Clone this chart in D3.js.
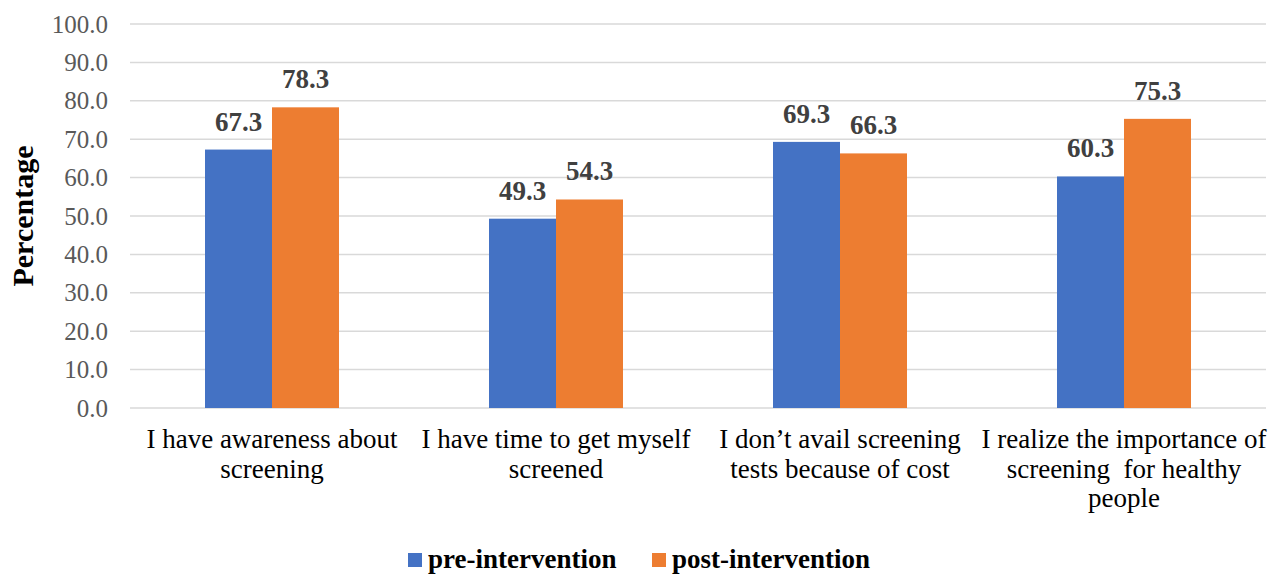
<!DOCTYPE html>
<html>
<head>
<meta charset="utf-8">
<script src="https://cdn.jsdelivr.net/npm/d3@7"></script>
<style>
  body { margin: 0; background: #fff; }
  svg { display: block; }
  svg text { font-family: "Liberation Serif", "Times New Roman", serif; }
</style>
</head>
<body>
<svg id="chart" width="1278" height="575"></svg>
<script>
// Survey statements (x categories), each split into display lines
const categories = [
  ["I have awareness about", "screening"],
  ["I have time to get myself", "screened"],
  ["I don\u2019t avail screening", "tests because of cost"],
  ["I realize the importance of", "screening  for healthy", "people"]
];
const seriesNames = ["pre-intervention", "post-intervention"];
const preIntervention = [67.3, 49.3, 69.3, 60.3];
const postIntervention = [78.3, 54.3, 66.3, 75.3];
const yTicks = [0, 10, 20, 30, 40, 50, 60, 70, 80, 90, 100];
const colors = ["#4472C4", "#ED7D31"];

const svg = d3.select("#chart");
const plotL = 130, plotR = 1266, plotT = 24, plotB = 408;

const y = d3.scaleLinear().domain([0, 100]).range([plotB, plotT]);
const x0 = d3.scaleBand().domain(d3.range(categories.length)).range([plotL, plotR]).padding(0);
const groupW = 134;
const x1 = d3.scaleBand().domain([0, 1]).range([0, groupW]).padding(0);

// gridlines
svg.append("g")
  .selectAll("line")
  .data(yTicks)
  .join("line")
  .attr("x1", plotL).attr("x2", plotR)
  .attr("y1", d => y(d)).attr("y2", d => y(d))
  .attr("stroke", "#d9d9d9").attr("stroke-width", 1.5);

// y axis labels
const yAxis = d3.axisLeft(y).tickValues(yTicks).tickFormat(d3.format(".1f")).tickSize(0).tickPadding(22);
const ya = svg.append("g").attr("transform", `translate(${plotL},0)`).call(yAxis);
ya.select(".domain").remove();
ya.selectAll("text")
  .style("font-size", "25px").attr("fill", "#595959");

// y axis title
svg.append("text")
  .attr("transform", `translate(33,216) rotate(-90)`)
  .attr("text-anchor", "middle")
  .style("font-size", "30px").style("font-weight", "bold")
  .attr("fill", "#000")
  .text("Percentage");

// bars
const rows = categories.map((c, i) => ({ i, vals: [preIntervention[i], postIntervention[i]] }));
const groups = svg.append("g").selectAll("g")
  .data(rows).join("g")
  .attr("transform", d => `translate(${x0(d.i) + x0.bandwidth() / 2 - groupW / 2},0)`);

groups.selectAll("rect")
  .data(d => d.vals.map((v, k) => ({ v, k })))
  .join("rect")
  .attr("x", d => x1(d.k))
  .attr("width", x1.bandwidth())
  .attr("y", d => y(d.v))
  .attr("height", d => y(0) - y(d.v))
  .attr("fill", d => colors[d.k]);

// value labels
groups.selectAll("text.val")
  .data(d => d.vals.map((v, k) => ({ v, k })))
  .join("text")
  .attr("class", "val")
  .attr("x", d => x1(d.k) + x1.bandwidth() / 2)
  .attr("y", d => y(d.v) - 19)
  .attr("text-anchor", "middle")
  .style("font-size", "27px").style("font-weight", "bold")
  .attr("fill", "#404040")
  .text(d => d.v.toFixed(1));

// category labels
svg.append("g").selectAll("text")
  .data(categories)
  .join("text")
  .attr("text-anchor", "middle")
  .style("font-size", "27px")
  .attr("fill", "#000")
  .each(function (lines, i) {
    const t = d3.select(this);
    lines.forEach((ln, j) => {
      t.append("tspan")
        .attr("x", x0(i) + x0.bandwidth() / 2)
        .attr("y", 448 + j * 29.5)
        .style("white-space", "pre")
        .text(ln);
    });
  });

// legend
const legendX = [408, 652];
const legend = svg.append("g").selectAll("g")
  .data(seriesNames).join("g")
  .attr("transform", (d, i) => `translate(${legendX[i]},0)`);
legend.append("rect")
  .attr("x", 0).attr("y", 553).attr("width", 14).attr("height", 14)
  .attr("fill", (d, i) => colors[i]);
legend.append("text")
  .attr("x", 20).attr("y", 568)
  .style("font-size", "27px").style("font-weight", "bold")
  .attr("fill", "#000")
  .text(d => d);
</script>
</body>
</html>
